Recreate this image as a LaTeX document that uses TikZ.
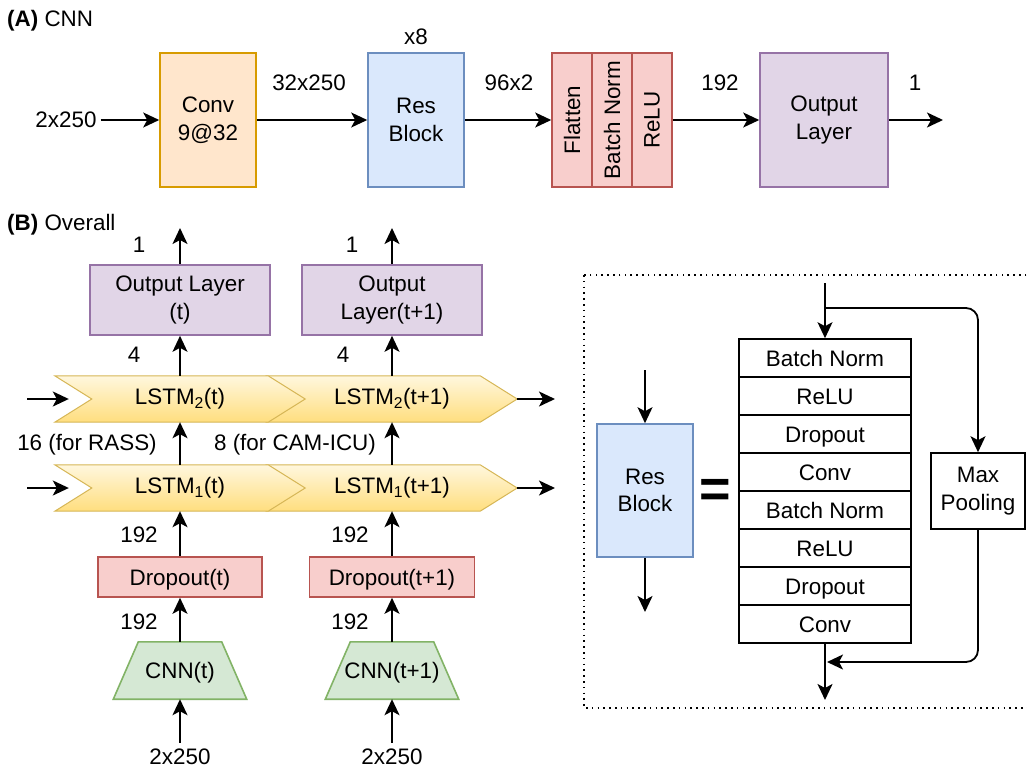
\documentclass[tikz,border=0pt]{standalone}
\usepackage{fontspec}
\setmainfont{Liberation Sans}
\usepackage{graphicx}
\usetikzlibrary{arrows.meta,backgrounds,calc}
\definecolor{orF}{HTML}{FFE6CC}\definecolor{orD}{HTML}{D79B00}
\definecolor{blF}{HTML}{DAE8FC}\definecolor{blD}{HTML}{6C8EBF}
\definecolor{rdF}{HTML}{F8CECC}\definecolor{rdD}{HTML}{B85450}
\definecolor{puF}{HTML}{E1D5E7}\definecolor{puD}{HTML}{9673A6}
\definecolor{grF}{HTML}{D5E8D4}\definecolor{grD}{HTML}{82B366}
\definecolor{yeT}{HTML}{FFF7DE}\definecolor{yeB}{HTML}{FFDE7E}\definecolor{yeD}{HTML}{D6B656}
\newcommand{\chevpath}[2]{%
  \path[chev] (#1.north west) -- ([xshift=-#2]#1.north east) -- (#1.east) --
    ([xshift=-#2]#1.south east) -- (#1.south west) -- ([xshift=#2]#1.west) -- cycle;}
\newcommand{\trappath}[2]{%
  \path[trap] (#1.south west) -- ([xshift=#2]#1.north west) -- ([xshift=-#2]#1.north east) --
    (#1.south east) -- cycle;}
\begin{document}
\begin{tikzpicture}[x=1pt,y=-1pt,
  font=\fontsize{22.4}{27.5}\selectfont,
  arr/.style={line width=1.8pt,-{Stealth[length=16pt,width=15pt,inset=4pt]}},
  bx/.style={draw,line width=1.6pt,inner sep=0pt,align=center},
  lbl/.style={inner sep=1pt},
  one/.style={text height=20pt,text depth=4pt},
  stk/.style={draw,line width=1.6pt,fill=white,minimum width=172pt,minimum height=38pt,inner sep=0pt,one},
  cn/.style={minimum width=250pt,minimum height=46pt,inner sep=0pt},
  chev/.style={draw=yeD,line width=1pt,top color=yeT,bottom color=yeB},
  tn/.style={minimum width=133pt,minimum height=57pt,inner sep=0pt},
  trap/.style={draw=grD,fill=grF,line width=1.6pt}]
\useasboundingbox (0,0) rectangle (1027,769);

% ---------- (A) CNN ----------
\node[anchor=west,lbl] (tA) at (6,21) {\textbf{(A)} CNN};
\node[lbl] (inA) at (66,120) {2x250};
\node[bx,fill=orF,draw=orD,minimum width=96pt,minimum height=134pt] (conv) at (208,120) {Conv\\9@32};
\node[bx,fill=blF,draw=blD,minimum width=96pt,minimum height=134pt] (res) at (416,120) {Res\\Block};
\node[lbl] (x8) at (416,37) {x8};
\node[bx,fill=rdF,draw=rdD,minimum width=40pt,minimum height=134pt] (flat) at (572,120) {\rotatebox{90}{Flatten}};
\node[bx,fill=rdF,draw=rdD,minimum width=40pt,minimum height=134pt] (bn) at (612,120) {\rotatebox{90}{Batch Norm}};
\node[bx,fill=rdF,draw=rdD,minimum width=40pt,minimum height=134pt] (relu) at (652,120) {\rotatebox{90}{ReLU}};
\node[bx,fill=puF,draw=puD,minimum width=128pt,minimum height=134pt] (outA) at (824,120) {Output\\Layer};
\coordinate (endA) at (943,120);
\draw[arr,shorten <=3pt] (inA.east) -- (conv.west);
\draw[arr] (conv.east) -- (res.west);
\draw[arr] (res.east) -- (flat.west);
\draw[arr] (relu.east) -- (outA.west);
\draw[arr] (outA.east) -- (endA);
\node[lbl] at (309,83) {32x250};
\node[lbl] at (509,83) {96x2};
\node[lbl] at (720,83) {192};
\node[lbl] at (915,83) {1};

% ---------- (B) Overall ----------
\node[anchor=west,lbl] (tB) at (6,225) {\textbf{(B)} Overall};
\node[bx,fill=puF,draw=puD,minimum width=180pt,minimum height=70pt] (olt) at (180,300) {Output Layer\\(t)};
\node[bx,fill=puF,draw=puD,minimum width=180pt,minimum height=70pt] (olt1) at (392,300) {Output\\Layer(t+1)};
\coordinate (ot) at (180,228);
\coordinate (ot1) at (392,228);
\draw[arr] (olt.north) -- (ot);
\draw[arr] (olt1.north) -- (ot1);
\node[lbl] at (139,245) {1};
\node[lbl] at (352,245) {1};

\node[cn] (l2t) at (180,399) {LSTM\textsubscript{2}(t)};
\node[cn] (l2t1) at (392,399) {LSTM\textsubscript{2}(t+1)};
\node[cn] (l1t) at (180,488) {LSTM\textsubscript{1}(t)};
\node[cn] (l1t1) at (392,488) {LSTM\textsubscript{1}(t+1)};

\node[bx,one,fill=rdF,draw=rdD,minimum width=164pt,minimum height=40pt] (dt) at (180,577) {Dropout(t)};
\node[bx,one,fill=rdF,draw=rdD,minimum width=165pt,minimum height=40pt] (dt1) at (392,577) {Dropout(t+1)};

\node[tn,one] (ct) at (180,670.5) {CNN(t)};
\node[tn,one] (ct1) at (392,670.5) {\makebox[0pt]{CNN(t+1)}};
\node[lbl] (it) at (180,757) {2x250};
\node[lbl] (it1) at (392,757) {2x250};

\begin{scope}[on background layer]
  \chevpath{l2t1}{37pt}
  \chevpath{l2t}{37pt}
  \chevpath{l1t1}{37pt}
  \chevpath{l1t}{37pt}
  \trappath{ct}{25pt}
  \trappath{ct1}{25pt}
\end{scope}

\coordinate (a2) at (27,399);
\coordinate (a1) at (27,488);
\coordinate (b2) at (555,399);
\coordinate (b1) at (555,488);
\draw[arr] (a2) -- ([xshift=14pt]l2t.west);
\draw[arr] (a1) -- ([xshift=14pt]l1t.west);
\draw[arr] (l2t1.east) -- (b2);
\draw[arr] (l1t1.east) -- (b1);

\draw[arr] (l2t.north) -- (olt.south);
\draw[arr] (l2t1.north) -- (olt1.south);
\draw[arr] (l1t.north) -- (l2t.south);
\draw[arr] (l1t1.north) -- (l2t1.south);
\draw[arr] (dt.north) -- (l1t.south);
\draw[arr] (dt1.north) -- (l1t1.south);
\draw[arr] (ct.north) -- (dt.south);
\draw[arr] (ct1.north) -- (dt1.south);
\draw[arr,shorten <=5pt] (it.north) -- (ct.south);
\draw[arr,shorten <=5pt] (it1.north) -- (ct1.south);

\node[lbl] at (134,355) {4};
\node[lbl] at (343,355) {4};
\node[lbl] at (87,445) {16 (for RASS)};
\node[lbl] at (295,445) {8 (for CAM-ICU)};
\node[lbl] at (139,535) {192};
\node[lbl] at (350,535) {192};
\node[lbl] at (139,622) {192};
\node[lbl] at (350,622) {192};

% ---------- Res Block detail ----------
\draw[line width=1.5pt,dash pattern=on 1.6pt off 4.2pt] (584,275) rectangle (1045,708);
\node[bx,fill=blF,draw=blD,minimum width=96pt,minimum height=133pt] (rb) at (645,490.5) {Res\\Block};
\coordinate (rbi) at (645,370);
\coordinate (rbo) at (645,612);
\draw[arr] (rbi) -- (rb.north);
\draw[arr] (rb.south) -- (rbo);
\node[font=\fontsize{54}{54}\bfseries\selectfont,inner sep=0pt] (eq) at (715,493) {=};

\node[stk] (s1) at (825,358) {Batch Norm};
\node[stk] (s2) at (825,396) {ReLU};
\node[stk] (s3) at (825,434) {Dropout};
\node[stk] (s4) at (825,472) {Conv};
\node[stk] (s5) at (825,510) {Batch Norm};
\node[stk] (s6) at (825,548) {ReLU};
\node[stk] (s7) at (825,586) {Dropout};
\node[stk] (s8) at (825,624) {Conv};
\node[bx,minimum width=94pt,minimum height=76pt] (mp) at (978,491) {Max\\Pooling};

\coordinate (top) at (825,283);
\coordinate (br) at (825,308);
\coordinate (ret) at (827,662);
\coordinate (bot) at (825,700);
\draw[arr] (top) -- (s1.north);
\draw[arr,rounded corners=12pt] (br) -- (mp.north |- br) -- (mp.north);
\draw[arr,rounded corners=12pt] (mp.south) -- (mp.south |- ret) -- (ret);
\draw[arr] (s8.south) -- (bot);
\end{tikzpicture}
\end{document}
